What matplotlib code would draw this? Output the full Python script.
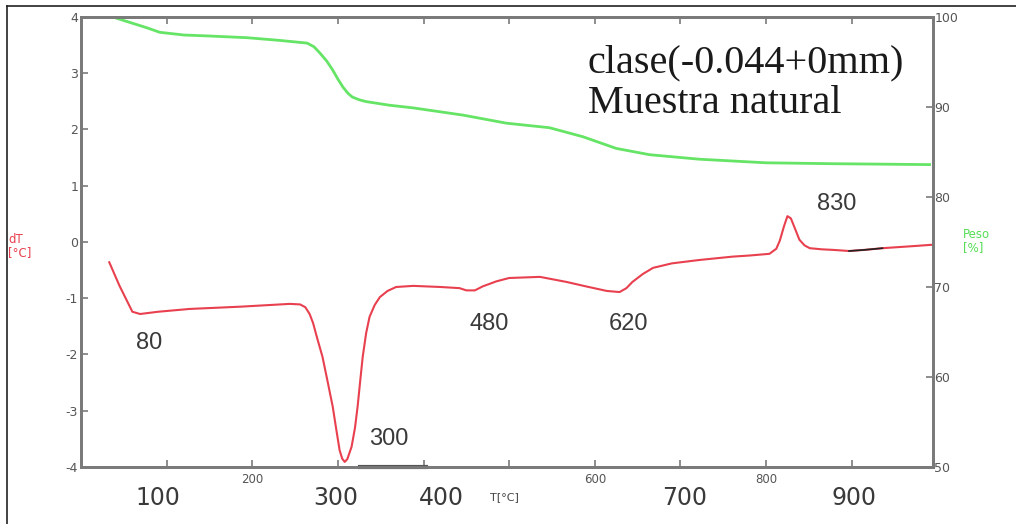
import matplotlib
matplotlib.use("Agg")
import matplotlib.pyplot as plt
from matplotlib.lines import Line2D

# DTA curve (left axis)
T_dta = [33, 45, 60, 69, 90, 127, 186, 244, 256, 262, 267, 271, 276, 282, 288, 294, 298, 302, 305,
         308, 311, 316, 320, 323, 326, 329, 333, 337, 343, 349, 358, 368, 388, 420, 442, 450, 460,
         469, 485, 500, 536, 567, 590, 614, 629, 637, 644, 656, 668, 690, 722, 761, 781, 804, 812,
         816, 821, 825, 829, 833, 839, 845, 851, 865, 878, 897, 915, 936, 975, 993]
dT = [-0.36, -0.78, -1.24, -1.28, -1.24, -1.19, -1.15, -1.10, -1.11, -1.16, -1.28, -1.44, -1.72,
      -2.04, -2.48, -2.93, -3.32, -3.70, -3.85, -3.91, -3.86, -3.64, -3.30, -2.93, -2.48, -2.04,
      -1.62, -1.33, -1.12, -0.98, -0.87, -0.80, -0.78, -0.80, -0.82, -0.86, -0.86, -0.79, -0.70,
      -0.64, -0.62, -0.71, -0.79, -0.87, -0.89, -0.82, -0.71, -0.57, -0.46, -0.38, -0.32, -0.26,
      -0.24, -0.21, -0.12, 0.02, 0.28, 0.46, 0.42, 0.27, 0.04, -0.06, -0.11, -0.13, -0.14, -0.16,
      -0.14, -0.11, -0.07, -0.05]

# TG curve (right axis)
T_tg = [30, 37, 57, 77, 92, 120, 147, 194, 232, 264, 272, 279, 287, 294, 300, 306, 312, 317, 325,
        333, 360, 388, 446, 497, 547, 586, 625, 664, 722, 800, 877, 991]
peso = [100.3, 100, 99.4, 98.8, 98.3, 98.0, 97.9, 97.7, 97.4, 97.1, 96.7, 96.0, 95.1, 94.1, 93.1,
        92.2, 91.5, 91.1, 90.8, 90.6, 90.2, 89.9, 89.1, 88.2, 87.7, 86.7, 85.4, 84.7, 84.2, 83.8,
        83.7, 83.6]

# peak labels
peak_labels = ["80", "300", "480", "620", "830"]
peak_T = [80, 359, 477, 639, 883]
peak_dT = [-1.8, -3.5, -1.45, -1.45, 0.67]

# big x labels drawn under the axis, and where they sit
big_x = ["100", "300", "400", "700", "900"]
big_x_T = [90, 298, 421, 705, 903]
small_x = [200, 600, 800]

grey = "#7a7a7a"
red = "#e8404e"
green = "#66e466"

fig = plt.figure(figsize=(10.16, 5.24), dpi=100)
ax = fig.add_axes([81 / 1016, 1 - 467 / 524, (933 - 81) / 1016, (467 - 17) / 524])
ax2 = ax.twinx()

ax.plot(T_dta, dT, color=red, lw=1.5, zorder=3)
# dark piece on the curve near the end
seg = [(t, v) for t, v in zip(T_dta, dT) if 890 <= t <= 940]
ax.plot([s[0] for s in seg], [s[1] for s in seg], color="#222222", lw=1.2, zorder=4)
ax2.plot(T_tg, peso, color=green, lw=2)

ax.set_xlim(0, 995)
ax.set_ylim(-4, 4)
ax2.set_ylim(50, 100)

ax.set_xticks(range(100, 1000, 100))
ax.set_xticklabels([str(t) if t in small_x else "" for t in range(100, 1000, 100)],
                   fontsize=8.5, color="#555555", family="Liberation Sans Narrow")
ax.set_yticks(range(-4, 5))
ax.set_yticklabels([str(v) for v in range(-4, 5)], fontsize=9, color="#555555")
ax2.set_yticks(range(50, 101, 10))
ax2.set_yticklabels([str(v) for v in range(50, 101, 10)], fontsize=9, color="#555555")

ax.tick_params(axis="x", direction="in", top=True, length=5, width=1.2, color=grey, pad=4)
ax.tick_params(axis="y", direction="in", length=5, width=1.2, color=grey, pad=2)
ax2.tick_params(axis="y", direction="in", length=5, width=1.2, color=grey, pad=1)
for a in (ax, ax2):
    for s in a.spines.values():
        s.set_color(grey)
        s.set_linewidth(2)

# grey bar on the bottom axis
ax.plot([326, 403], [-4, -4], color="#555555", lw=3, clip_on=False, zorder=5)

for lab, t, v in zip(peak_labels, peak_T, peak_dT):
    ax.text(t, v, lab, fontsize=17, color="#3a3a3a", ha="center", va="center",
            family="Liberation Sans")

for lab, t in zip(big_x, big_x_T):
    ax.annotate(lab, (t, -4), xytext=(0, -22), textcoords="offset points",
                fontsize=17, color="#3a3a3a", ha="center", va="center",
                family="Liberation Sans Narrow", annotation_clip=False)
ax.annotate("T[°C]", (495, -4), xytext=(0, -22), textcoords="offset points",
            fontsize=8, color="#444444", ha="center", va="center", annotation_clip=False)

ax.text(0.595, 0.853, "clase(-0.044+0mm)\nMuestra natural", transform=ax.transAxes,
        fontsize=29, family="Liberation Serif", color="#1a1a1a", ha="left", va="center",
        linespacing=1.1)

fig.text(8 / 1016, 1 - 246 / 524, "dT\n[°C]", fontsize=8.5, color=red, ha="left", va="center",
         linespacing=0.95)
fig.text(963 / 1016, 1 - 241 / 524, "Peso\n[%]", fontsize=8.5, color="#55dd55", ha="left",
         va="center", linespacing=0.95)

# outer frame (left and top)
fig.add_artist(Line2D([7 / 1016, 7 / 1016], [0, 1 - 6 / 524], color="#222222", lw=1.2))
fig.add_artist(Line2D([7 / 1016, 1], [1 - 6 / 524, 1 - 6 / 524], color="#222222", lw=1.2))

fig.savefig("out.png", dpi=100)
